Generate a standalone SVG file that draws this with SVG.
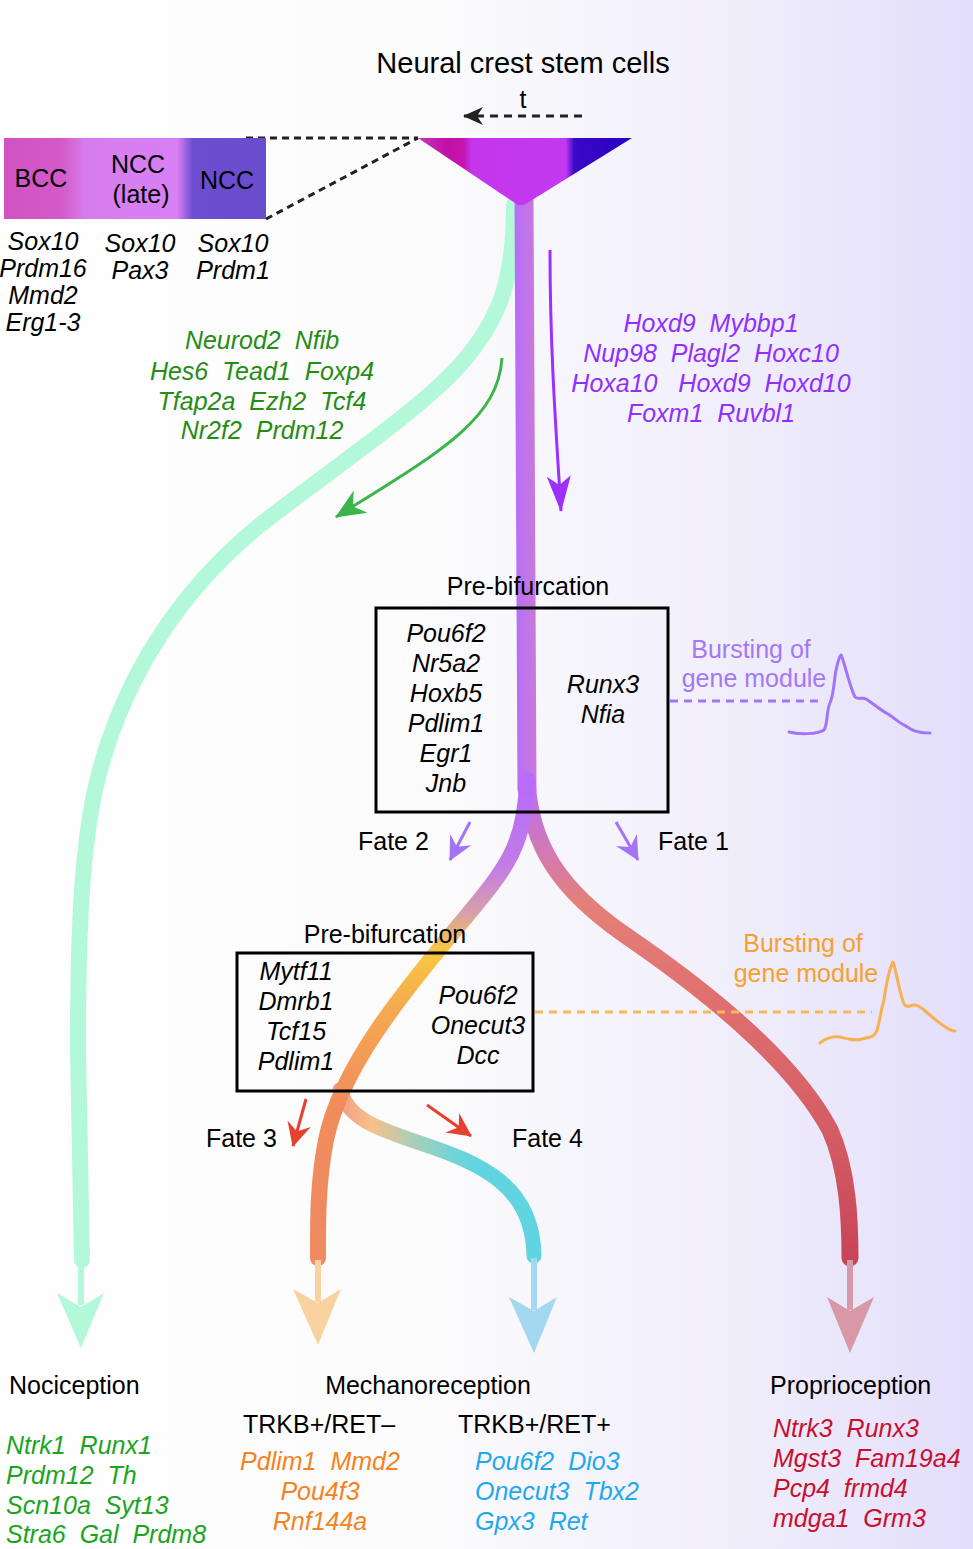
<svg xmlns="http://www.w3.org/2000/svg" width="973" height="1549" viewBox="0 0 973 1549">
<style>
.t{font-family:"Liberation Sans",Arial,Helvetica,sans-serif;font-size:25px;fill:#000;white-space:pre}
.i{font-style:italic}
.m{text-anchor:middle}
.grn{fill:#258c14}
.pur{fill:#9030ff}
.lp{fill:#a478f6}
.or{fill:#f7a030}
.g2{fill:#1aa520}
.o2{fill:#f58220}
.b2{fill:#1ea8ee}
.r2{fill:#c8102e}
.stem{fill:none;stroke-linecap:round}
.dash{fill:none;stroke:#222;stroke-width:3;stroke-dasharray:7 5}
</style>
<defs>
<linearGradient id="bg" x1="0" y1="0" x2="973" y2="0" gradientUnits="userSpaceOnUse">
<stop offset="0" stop-color="#ffffff"/><stop offset="0.45" stop-color="#fbfbfc"/><stop offset="0.75" stop-color="#f1eefb"/><stop offset="1" stop-color="#e3defb"/>
</linearGradient>
<linearGradient id="bar" x1="4" y1="0" x2="266" y2="0" gradientUnits="userSpaceOnUse">
<stop offset="0" stop-color="#d153c2"/><stop offset="0.22" stop-color="#d35ac8"/><stop offset="0.31" stop-color="#d67cee"/><stop offset="0.66" stop-color="#d880f4"/><stop offset="0.72" stop-color="#6e4ed0"/><stop offset="1" stop-color="#6a4cce"/>
</linearGradient>
<linearGradient id="tri" x1="418" y1="0" x2="632" y2="0" gradientUnits="userSpaceOnUse">
<stop offset="0" stop-color="#c23ab8"/><stop offset="0.13" stop-color="#c010a8"/><stop offset="0.21" stop-color="#c414ac"/><stop offset="0.25" stop-color="#c535ea"/><stop offset="0.69" stop-color="#c23af0"/><stop offset="0.73" stop-color="#3a08c8"/><stop offset="1" stop-color="#2800c0"/>
</linearGradient>
<linearGradient id="trunk" x1="516" y1="0" x2="536" y2="0" gradientUnits="userSpaceOnUse">
<stop offset="0" stop-color="#b86ef8"/><stop offset="1" stop-color="#c87ad8"/>
</linearGradient>
<linearGradient id="lb" x1="0" y1="785" x2="0" y2="1260" gradientUnits="userSpaceOnUse">
<stop offset="0" stop-color="#b86cf8"/><stop offset="0.17" stop-color="#c27ce6"/><stop offset="0.27" stop-color="#d8a0a8"/><stop offset="0.35" stop-color="#f8c840"/><stop offset="0.47" stop-color="#f5aa50"/><stop offset="0.68" stop-color="#f08c5c"/><stop offset="1" stop-color="#ef8a62"/>
</linearGradient>
<linearGradient id="rb" x1="0" y1="785" x2="0" y2="1260" gradientUnits="userSpaceOnUse">
<stop offset="0" stop-color="#bb6ff0"/><stop offset="0.15" stop-color="#d47ab0"/><stop offset="0.25" stop-color="#e48078"/><stop offset="0.45" stop-color="#e07070"/><stop offset="0.78" stop-color="#d25862"/><stop offset="1" stop-color="#c84458"/>
</linearGradient>
<linearGradient id="f4" x1="340" y1="0" x2="535" y2="0" gradientUnits="userSpaceOnUse">
<stop offset="0" stop-color="#f0a088"/><stop offset="0.16" stop-color="#f8c088"/><stop offset="0.38" stop-color="#a8d0b8"/><stop offset="0.58" stop-color="#70d4d8"/><stop offset="0.72" stop-color="#60d4e0"/><stop offset="1" stop-color="#60d4e0"/>
</linearGradient>
<marker id="mg" viewBox="-30 -14 32 28" refX="0" refY="0" markerWidth="32" markerHeight="28" markerUnits="userSpaceOnUse" orient="auto">
<path d="M1,0 L-29,-13 L-20,0 L-29,13 Z" fill="#3cb54a"/>
</marker>
<marker id="mp" viewBox="-36 -13 38 26" refX="0" refY="0" markerWidth="38" markerHeight="26" markerUnits="userSpaceOnUse" orient="auto">
<path d="M1,0 L-35,-12 L-26,0 L-35,12 Z" fill="#9b30ff"/>
</marker>
<marker id="mk" viewBox="-20 -10 22 20" refX="0" refY="0" markerWidth="22" markerHeight="20" markerUnits="userSpaceOnUse" orient="auto">
<path d="M1,0 L-19,-9 L-13,0 L-19,9 Z" fill="#222"/>
</marker>
<marker id="ml" viewBox="-24 -13 26 26" refX="0" refY="0" markerWidth="26" markerHeight="26" markerUnits="userSpaceOnUse" orient="auto">
<path d="M1,0 L-23,-12 L-15,0 L-23,12 Z" fill="#a474f8"/>
</marker>
<marker id="mr" viewBox="-24 -13 26 26" refX="0" refY="0" markerWidth="26" markerHeight="26" markerUnits="userSpaceOnUse" orient="auto">
<path d="M1,0 L-23,-12 L-15,0 L-23,12 Z" fill="#e8402e"/>
</marker>
</defs>

<rect x="0" y="0" width="973" height="1549" fill="url(#bg)"/>

<g id="connectors">
<path class="stem" d="M 514 205 C 514 280 500 320 460 365 C 420 410 330 470 260 525 C 180 590 120 680 95 790 C 80 860 78 950 78 1050 L 82 1260" stroke="#b4f8da" stroke-width="16"/>
<path class="stem" d="M 524 200 L 527 790" stroke="url(#trunk)" stroke-width="19" stroke-linecap="butt"/>
<path class="stem" d="M 527 780 C 530 845 560 890 625 935 C 720 1000 795 1065 830 1130 C 848 1170 850 1220 850 1258" stroke="url(#rb)" stroke-width="17"/>
<path class="stem" d="M 340 1090 C 348 1118 375 1128 420 1143 C 480 1163 533 1185 534 1256" stroke="url(#f4)" stroke-width="15"/>
<path class="stem" d="M 527 780 C 526 845 505 870 465 918 C 400 995 340 1070 326 1140 C 317 1185 318 1230 318 1258" stroke="url(#lb)" stroke-width="16"/>

<line x1="81" y1="1262" x2="81" y2="1305" stroke="#b4f8da" stroke-width="6"/>
<polygon points="57,1293 81,1307 104,1293 81,1348" fill="#b4f8da"/>
<line x1="318" y1="1260" x2="318" y2="1302" stroke="#f8d2a0" stroke-width="6"/>
<polygon points="293,1289 318,1303 341,1289 318,1345" fill="#f8d2a0"/>
<line x1="534" y1="1258" x2="534" y2="1310" stroke="#a4d8f0" stroke-width="6"/>
<polygon points="509,1297 534,1311 557,1297 534,1353" fill="#a4d8f0"/>
<line x1="850" y1="1260" x2="850" y2="1310" stroke="#d898a8" stroke-width="6"/>
<polygon points="827,1297 850,1311 874,1297 850,1353" fill="#d898a8"/>

<path d="M 582 116 L 464 116" fill="none" stroke="#222" stroke-width="3" stroke-dasharray="8 6" marker-end="url(#mk)"/>
<line class="dash" x1="246" y1="138" x2="418" y2="138"/>
<line class="dash" x1="266" y1="219" x2="418" y2="138"/>

<path d="M 502 358 C 498 420 440 452 336 517" fill="none" stroke="#3cb54a" stroke-width="3" marker-end="url(#mg)"/>
<path d="M 550 250 C 550 350 556 430 561 511" fill="none" stroke="#9b30ff" stroke-width="3" marker-end="url(#mp)"/>

<line x1="470" y1="822" x2="450" y2="860" stroke="#a474f8" stroke-width="3" marker-end="url(#ml)"/>
<line x1="616" y1="822" x2="638" y2="860" stroke="#a474f8" stroke-width="3" marker-end="url(#ml)"/>
<line x1="306" y1="1099" x2="293" y2="1146" stroke="#e8402e" stroke-width="3" marker-end="url(#mr)"/>
<line x1="427" y1="1105" x2="471" y2="1136" stroke="#e8402e" stroke-width="3" marker-end="url(#mr)"/>

<line x1="670" y1="701" x2="822" y2="701" stroke="#a474f8" stroke-width="3" stroke-dasharray="8 6"/>
<path d="M 789 732 C 800 735 818 734 824 730 C 828 724 826 712 830 703 C 834 694 834 680 836 670 C 838 662 839 656 841 655 C 844 660 849 685 855 697 C 858 700 862 697 866 699 C 874 704 880 710 888 714 C 896 719 900 724 906 726 C 912 730 916 733 930 733" fill="none" stroke="#a474f8" stroke-width="3" stroke-linecap="round" stroke-linejoin="round"/>
<line x1="535" y1="1012" x2="872" y2="1012" stroke="#f8b858" stroke-width="3" stroke-dasharray="8 6"/>
<path d="M 820 1043 C 826 1038 832 1036 840 1037 C 848 1039 854 1041 862 1039 C 870 1037 874 1038 877 1030 C 880 1020 881 1010 884 1000 C 886 985 889 970 893 962 C 896 970 898 985 902 998 C 904 1006 906 1007 910 1006 C 915 1004 918 1005 924 1010 C 932 1017 938 1022 944 1026 C 948 1029 952 1031 955 1031" fill="none" stroke="#f8b050" stroke-width="3" stroke-linecap="round" stroke-linejoin="round"/>
</g>

<g id="ncsc">
<text class="t m" x="523" y="73" style="font-size:29px">Neural crest stem cells</text>
<text class="t m" x="523" y="108">t</text>
<polygon points="418,138 632,138 524,205 518,205" fill="url(#tri)"/>
</g>

<g id="bar-node">
<rect x="4" y="138" width="262" height="81" fill="url(#bar)"/>
<text class="t m" x="41" y="187">BCC</text>
<text class="t m" x="138" y="173">NCC</text>
<text class="t m" x="141" y="203">(late)</text>
<text class="t m" x="227" y="189">NCC</text>
<text class="t i m" x="43" y="250">Sox10</text>
<text class="t i m" x="43" y="277">Prdm16</text>
<text class="t i m" x="43" y="304">Mmd2</text>
<text class="t i m" x="43" y="331">Erg1-3</text>
<text class="t i m" x="140" y="252">Sox10</text>
<text class="t i m" x="140" y="279">Pax3</text>
<text class="t i m" x="233" y="252">Sox10</text>
<text class="t i m" x="233" y="279">Prdm1</text>
</g>

<g id="green-genes">
<text class="t i m grn" x="262" y="349">Neurod2  Nfib</text>
<text class="t i m grn" x="262" y="380">Hes6  Tead1  Foxp4</text>
<text class="t i m grn" x="262" y="410">Tfap2a  Ezh2  Tcf4</text>
<text class="t i m grn" x="262" y="439">Nr2f2  Prdm12</text>
</g>

<g id="hox-genes">
<text class="t i m pur" x="711" y="332">Hoxd9  Mybbp1</text>
<text class="t i m pur" x="711" y="362">Nup98  Plagl2  Hoxc10</text>
<text class="t i m pur" x="711" y="392">Hoxa10   Hoxd9  Hoxd10</text>
<text class="t i m pur" x="711" y="422">Foxm1  Ruvbl1</text>
</g>

<g id="prebif1">
<text class="t m" x="528" y="595">Pre-bifurcation</text>
<rect x="376" y="608" width="292" height="204" fill="none" stroke="#000" stroke-width="3"/>
<text class="t i m" x="446" y="642">Pou6f2</text>
<text class="t i m" x="446" y="672">Nr5a2</text>
<text class="t i m" x="446" y="702">Hoxb5</text>
<text class="t i m" x="446" y="732">Pdlim1</text>
<text class="t i m" x="446" y="762">Egr1</text>
<text class="t i m" x="446" y="792">Jnb</text>
<text class="t i m" x="603" y="693">Runx3</text>
<text class="t i m" x="603" y="723">Nfia</text>
</g>

<g id="burst1">
<text class="t m lp" x="751" y="658">Bursting of</text>
<text class="t m lp" x="754" y="687">gene module</text>
</g>

<g id="fates12">
<text class="t" x="358" y="850">Fate 2</text>
<text class="t" x="658" y="850">Fate 1</text>
</g>

<g id="prebif2">
<text class="t m" x="385" y="943">Pre-bifurcation</text>
<rect x="237" y="953" width="296" height="138" fill="none" stroke="#000" stroke-width="3"/>
<text class="t i m" x="296" y="980">Mytf11</text>
<text class="t i m" x="296" y="1010">Dmrb1</text>
<text class="t i m" x="296" y="1040">Tcf15</text>
<text class="t i m" x="296" y="1070">Pdlim1</text>
<text class="t i m" x="478" y="1004">Pou6f2</text>
<text class="t i m" x="478" y="1034">Onecut3</text>
<text class="t i m" x="478" y="1064">Dcc</text>
</g>

<g id="burst2">
<text class="t m or" x="803" y="952">Bursting of</text>
<text class="t m or" x="806" y="982">gene module</text>
</g>

<g id="fates34">
<text class="t" x="206" y="1147">Fate 3</text>
<text class="t" x="512" y="1147">Fate 4</text>
</g>

<g id="nociception">
<text class="t" x="9" y="1394">Nociception</text>
<text class="t i g2" x="6" y="1454">Ntrk1  Runx1</text>
<text class="t i g2" x="6" y="1484">Prdm12  Th</text>
<text class="t i g2" x="6" y="1514">Scn10a  Syt13</text>
<text class="t i g2" x="6" y="1543">Stra6  Gal  Prdm8</text>
</g>

<g id="mechanoreception">
<text class="t m" x="428" y="1394">Mechanoreception</text>
<text class="t" x="243" y="1433">TRKB+/RET–</text>
<text class="t" x="458" y="1433">TRKB+/RET+</text>
<text class="t i m o2" x="320" y="1470">Pdlim1  Mmd2</text>
<text class="t i m o2" x="320" y="1500">Pou4f3</text>
<text class="t i m o2" x="320" y="1530">Rnf144a</text>
<text class="t i b2" x="475" y="1470">Pou6f2  Dio3</text>
<text class="t i b2" x="475" y="1500">Onecut3  Tbx2</text>
<text class="t i b2" x="475" y="1530">Gpx3  Ret</text>
</g>

<g id="proprioception">
<text class="t" x="770" y="1394">Proprioception</text>
<text class="t i r2" x="773" y="1437">Ntrk3  Runx3</text>
<text class="t i r2" x="773" y="1467">Mgst3  Fam19a4</text>
<text class="t i r2" x="773" y="1497">Pcp4  frmd4</text>
<text class="t i r2" x="773" y="1527">mdga1  Grm3</text>
</g>
</svg>
